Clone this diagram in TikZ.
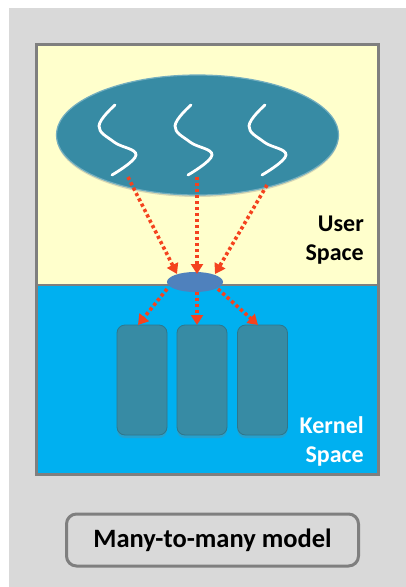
\documentclass[tikz,border=0pt]{standalone}
\usepackage{fontspec}
\setmainfont{Carlito}
\usetikzlibrary{arrows.meta,shadows,shapes.geometric}
\definecolor{bgGray}{HTML}{D9D9D9}
\definecolor{frameGray}{HTML}{7F7F7F}
\definecolor{userYellow}{HTML}{FFFFCC}
\definecolor{kernelBlue}{HTML}{00B0F0}
\definecolor{procTeal}{HTML}{378BA4}
\definecolor{lwpBlue}{HTML}{4F81BD}
\definecolor{arrowRed}{HTML}{F4431E}
\begin{document}
\begin{tikzpicture}[x=1pt,y=-1pt,
  procell/.style={ellipse,fill=procTeal,draw=procTeal!70!white,line width=1.2pt,
     minimum width=282pt,minimum height=120pt,inner sep=0pt,
     drop shadow={shadow xshift=0pt,shadow yshift=-2pt,opacity=0.3}},
  lwp/.style={ellipse,fill=lwpBlue,minimum width=56pt,minimum height=20pt,inner sep=0pt},
  kthread/.style={rectangle,rounded corners=8pt,fill=procTeal,draw=procTeal!85!black,line width=0.8pt,
     minimum width=50pt,minimum height=110pt,inner sep=0pt,
     drop shadow={shadow xshift=0pt,shadow yshift=-3pt,opacity=0.3}},
  uthread/.style={white,line width=2.8pt,line cap=round},
  maplink/.style={arrowRed,line width=3.6pt,dash pattern=on 3.2pt off 2.8pt,
     -{Triangle[length=10pt,width=12pt]}},
  spacelabel/.style={font=\bfseries\fontsize{24}{29}\selectfont,align=right,anchor=south east,inner sep=0pt},
  captionbox/.style={draw=frameGray,line width=3pt,rounded corners=10pt,fill=bgGray,
     minimum width=292pt,minimum height=52pt,font=\bfseries\fontsize{26.5}{30}\selectfont}
]
\useasboundingbox (0,0) rectangle (406,587);
\fill[white] (0,0) rectangle (406,587);
\fill[bgGray] (9,8) rectangle (406,587);
% spaces
\fill[userYellow] (36.5,44.5) rectangle (378.5,285);
\fill[kernelBlue] (36.5,285) rectangle (378.5,474.5);
\draw[frameGray,line width=2pt] (36.5,285) -- (378.5,285);
\draw[frameGray,line width=3pt] (36.5,44.5) rectangle (378.5,474.5);
% process ellipse with user threads
\node[procell] (proc) at (197.5,135) {};
\foreach \dx in {0,76,150}{
  \draw[uthread] plot[smooth,tension=0.7] coordinates {(115+\dx,105) (99+\dx,126) (114+\dx,142) (136+\dx,155) (112+\dx,175)};
}
\coordinate (u1) at (128,177);
\coordinate (u2) at (197,177);
\coordinate (u3) at (267,185);
% LWP
\node[lwp] (lwp) at (195,282) {};
\coordinate (l1in) at (177,274);
\coordinate (l2in) at (197,274);
\coordinate (l3in) at (215,274);
\coordinate (l1out) at (167,289);
\coordinate (l2out) at (197,292);
\coordinate (l3out) at (218,289);
% kernel threads
\node[kthread] (k1) at (142,380) {};
\node[kthread] (k2) at (202,380) {};
\node[kthread] (k3) at (262.5,380) {};
\coordinate (k1in) at (138,325);
\coordinate (k2in) at (197,325);
\coordinate (k3in) at (258,325);
% arrows
\draw[maplink] (u1) -- (l1in);
\draw[maplink] (u2) -- (l2in);
\draw[maplink] (u3) -- (l3in);
\draw[maplink] (l1out) -- (k1in);
\draw[maplink] (l2out) -- (k2in);
\draw[maplink] (l3out) -- (k3in);
% labels
\node[spacelabel] (userlbl) at (364,264) {User\\Space};
\node[spacelabel,text=white] (kernlbl) at (364,466) {Kernel\\Space};
% caption
\node[captionbox] (cap) at (212.5,540) {Many-to-many model};
\end{tikzpicture}
\end{document}
